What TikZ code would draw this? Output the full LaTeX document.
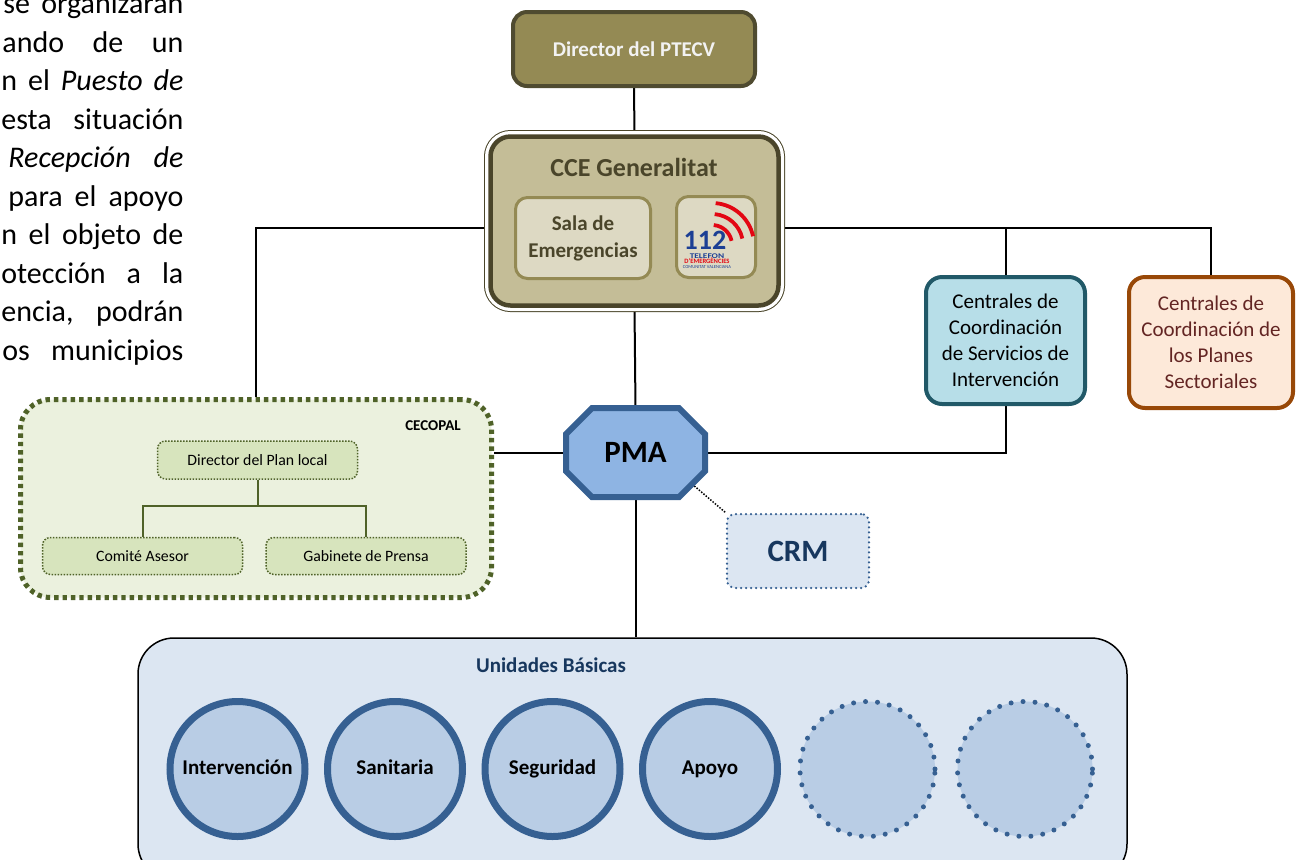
\documentclass[tikz,border=0pt]{standalone}
\usepackage{fontspec}
\setmainfont{Carlito}
\usetikzlibrary{backgrounds}

\definecolor{ptecvfill}{HTML}{948A54}
\definecolor{ptecvline}{HTML}{4F4B30}
\definecolor{ccefill}{HTML}{C4BD97}
\definecolor{cceline}{HTML}{4A452A}
\definecolor{salafill}{HTML}{DDD9C3}
\definecolor{salaline}{HTML}{948A54}
\definecolor{pmafill}{HTML}{8EB4E3}
\definecolor{pmaline}{HTML}{366092}
\definecolor{crmfill}{HTML}{DCE6F2}
\definecolor{crmtext}{HTML}{17375E}
\definecolor{servfill}{HTML}{B7DEE8}
\definecolor{servline}{HTML}{215968}
\definecolor{sectfill}{HTML}{FDE9D9}
\definecolor{sectline}{HTML}{984807}
\definecolor{secttext}{HTML}{632523}
\definecolor{cecofill}{HTML}{EBF1DE}
\definecolor{cecoline}{HTML}{4F6228}
\definecolor{localfill}{HTML}{D7E4BD}
\definecolor{unifill}{HTML}{DCE6F2}
\definecolor{circfill}{HTML}{B9CDE5}
\definecolor{logoblue}{HTML}{1C3F94}
\definecolor{logored}{HTML}{E30613}

\begin{document}
\begin{tikzpicture}[x=0.5pt, y=-0.5pt,
    conn/.style={draw=black, line width=1pt},
    dotconn/.style={draw=black, line width=0.75pt, dash pattern=on 0.75pt off 0.75pt},
    ptecv/.style={draw=ptecvline, line width=2pt, fill=ptecvfill, rounded corners=7pt,
        minimum width=121pt, minimum height=37pt, text=white!95!black,
        font=\fontsize{10.5}{13}\selectfont\bfseries},
    cce/.style={draw=cceline, line width=2.25pt, fill=ccefill, rounded corners=10pt,
        minimum width=144pt, minimum height=84.5pt,
        preaction={draw=cceline, line width=6.5pt},
        preaction={draw=white, line width=5.5pt}},
    salabox/.style={draw=salaline, line width=1.5pt, fill=salafill, rounded corners=6pt,
        minimum height=40.5pt, align=center, text=cceline,
        font=\fontsize{10.5}{13.5}\selectfont\bfseries},
    pmabox/.style={rectangle, minimum width=69.5pt, minimum height=44.5pt, inner sep=0pt,
        outer sep=0pt, font=\fontsize{15.5}{18}\selectfont\bfseries},
    pmaoct/.style={draw=pmaline, line width=3pt, fill=pmafill},
    crmbox/.style={draw=pmaline, line width=1.25pt, dash pattern=on 0pt off 2.5pt,
        line cap=round, fill=crmfill, rounded corners=4pt, minimum width=71pt,
        minimum height=37pt, text=crmtext, font=\fontsize{15.5}{18}\selectfont\bfseries},
    servbox/.style={draw=servline, line width=2pt, fill=servfill, rounded corners=8pt,
        minimum width=79.5pt, minimum height=63.5pt, align=center,
        font=\fontsize{10.5}{13}\selectfont},
    sectbox/.style={draw=sectline, line width=2pt, fill=sectfill, rounded corners=8pt,
        minimum width=82pt, minimum height=65.5pt, align=center, text=secttext,
        font=\fontsize{10.5}{13}\selectfont},
    cecobox/.style={draw=cecoline, line width=2.5pt, dash pattern=on 2.2pt off 2pt,
        fill=cecofill, rounded corners=15pt, minimum width=235.5pt, minimum height=99pt},
    localbox/.style={draw=cecoline, line width=0.75pt, dash pattern=on 0.75pt off 0.75pt,
        fill=localfill, rounded corners=4pt, minimum width=100pt, minimum height=19pt,
        font=\fontsize{7.9}{9.5}\selectfont},
    cecoconn/.style={draw=cecoline, line width=1pt},
    unibox/.style={draw=black, line width=0.75pt, fill=unifill, rounded corners=18pt,
        minimum width=494.5pt, minimum height=121pt},
    unit/.style={circle, draw=pmaline, line width=3.5pt, fill=circfill, minimum size=67.5pt,
        inner sep=0pt, text height=7.4pt, text depth=2.4pt,
        font=\fontsize{10.5}{13}\selectfont\bfseries},
    unitdot/.style={unit, line width=2.5pt, dash pattern=on 0pt off 6pt, line cap=round},
    logotxt/.style={inner sep=0pt, text depth=0pt, anchor=base},
    paraline/.style={anchor=base west, inner sep=0pt, font=\fontsize{15}{18}\selectfont}]

    \path[use as bounding box, clip] (0,0) rectangle (1303,859);

    % Texto del documento
    \node[paraline] (par1) at (3,13.5) {\hbox to 90pt{se\hfill organizarán}};
    \node[paraline] (par2) at (2,52) {\hbox to 90.5pt{ando\hfill de\hfill un}};
    \node[paraline] (par3) at (1,90.5) {\hbox to 91pt{n\hfill el\hfill \textit{Puesto}\hfill \textit{de}}};
    \node[paraline] (par4) at (1,129) {\hbox to 91pt{esta\hfill situación}};
    \node[paraline] (par5) at (8,167.5) {\hbox to 87.5pt{\textit{Recepción}\hfill \textit{de}}};
    \node[paraline] (par6) at (8,206) {\hbox to 87.5pt{para\hfill el\hfill apoyo}};
    \node[paraline] (par7) at (1,244.5) {\hbox to 91pt{n\hfill el\hfill objeto\hfill de}};
    \node[paraline] (par8) at (1,283) {\hbox to 91pt{otección\hfill a\hfill la}};
    \node[paraline] (par9) at (1,321.5) {\hbox to 91pt{encia,\hfill podrán}};
    \node[paraline] (par10) at (2,360) {\hbox to 90.5pt{os\hfill municipios}};

    % Direccion
    \node[ptecv] (ptecv) at (634,49) {Director del PTECV};

    \node[cce] (cce) at (634.5,221) {};
    \node[text=cceline, font=\fontsize{13}{16}\selectfont\bfseries] (ccetitle) at (634,167) {CCE Generalitat};
    \node[salabox, minimum width=67.5pt] (sala) at (583,238) {Sala de\\Emergencias};
    \node[salabox, minimum width=39.5pt] (logo) at (716,237) {};

    % 112 logo
    \coordinate (logoc) at (712,245);
    \foreach \r in {20,31,42}
        \draw[logored, line width=1.9pt] (logoc) ++(-85:\r) arc[start angle=-85, end angle=-12, radius=\r];
    \node[logotxt, text=logoblue, font=\fontsize{14}{14}\selectfont\bfseries] (num112) at (705,249) {112};
    \node[logotxt, text height=2.4pt, text=logoblue, font=\fontsize{3.6}{4}\selectfont\bfseries] (telefon) at (707,258.5) {\scalebox{1.3}[1]{TELEFON}};
    \node[logotxt, text height=2.2pt, text=logored, font=\fontsize{3.3}{4}\selectfont\bfseries] (emerg) at (707,263.5) {D'EMERGÈNCIES};
    \node[logotxt, text height=1.6pt, text=logoblue, font=\fontsize{2.3}{3}\selectfont] (comval) at (707,268) {COMUNITAT VALENCIANA};

    % Centrales
    \node[servbox] (serv) at (1005.5,340.5) {Centrales de\\Coordinación\\de Servicios de\\Intervención};
    \node[sectbox] (sect) at (1211,342.5) {Centrales de\\Coordinación de\\los Planes\\Sectoriales};

    % PMA y CRM
    \node[pmabox] (pma) at (635.5,452.5) {PMA};
    \coordinate (pmacut) at ([xshift=-6.5pt, yshift=6.5pt]pma.south east);
    \node[crmbox] (crm) at (798,551) {CRM};

    % CECOPAL
    \begin{scope}
        \node[cecobox] (cecopal) at (256,498.5) {};
        \node[font=\fontsize{7.5}{9}\selectfont\bfseries] (cecolabel) at (433,426) {CECOPAL};
        \node[localbox] (dirlocal) at (257.5,460) {Director del Plan local};
        \node[localbox, minimum height=18.5pt] (comite) at (142.5,556) {Comité Asesor};
        \node[localbox, minimum height=18.5pt] (prensa) at (366,556) {Gabinete de Prensa};
        \draw[cecoconn] (dirlocal.south) -- ++(0,26) -| (comite.north);
        \draw[cecoconn] (dirlocal.south) ++(0,26) -| (prensa.north);
    \end{scope}

    % Unidades Basicas
    \begin{scope}
        \node[unibox] (unidades) at (632.5,759) {};
        \node[text=crmtext, font=\fontsize{10.5}{13}\selectfont\bfseries] (unilabel) at (551,665) {Unidades Básicas};
        \node[unit] (interv) at (237.5,769) {Intervención};
        \node[unit] (sanit) at (395,769) {Sanitaria};
        \node[unit] (segur) at (552.5,769) {Seguridad};
        \node[unit] (apoyo) at (710,769) {Apoyo};
        \node[unitdot] (extra1) at (867.5,769) {};
        \node[unitdot] (extra2) at (1025,769) {};
    \end{scope}

    % Conexiones
    \begin{scope}[on background layer]
        \coordinate (busW) at ([yshift=-3.5pt]cce.west);
        \coordinate (busE) at ([yshift=-3.5pt]cce.east);
        \draw[conn] (ptecv.south) -- (cce.north);
        \draw[conn] (cce.south) -- (pma.north);
        \draw[conn] (busW) -| (cecopal.north);
        \draw[conn] (busE) -| (sect.north);
        \draw[conn] (serv.north) -- (serv.north |- busE);
        \draw[conn] (pma.west) -- (pma.west -| cecopal.east);
        \draw[conn] (pma.east) -| (serv.south);
        \draw[conn] (pma.south) -- (pma.south |- unidades.north);
        \draw[dotconn] (pmacut) -- (crm.north west);
        % octagon
        \draw[pmaoct] ([xshift=13pt]pma.north west) -- ([xshift=-13pt]pma.north east)
            -- ([yshift=-13pt]pma.north east) -- ([yshift=13pt]pma.south east)
            -- ([xshift=-13pt]pma.south east) -- ([xshift=13pt]pma.south west)
            -- ([yshift=13pt]pma.south west) -- ([yshift=-13pt]pma.north west) -- cycle;
    \end{scope}

\end{tikzpicture}
\end{document}
